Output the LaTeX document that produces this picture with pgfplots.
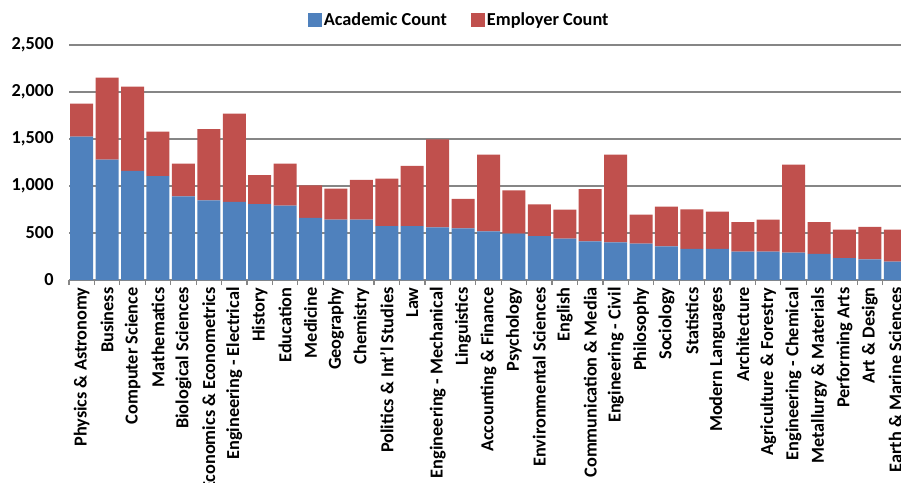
\documentclass[border=0pt]{standalone}
\usepackage{fontspec}
\setmainfont{Carlito}
\usepackage{pgfplots}
\pgfplotsset{compat=1.18}
\definecolor{acad}{HTML}{4F81BD}
\definecolor{empl}{HTML}{C0504D}
\definecolor{gridgray}{HTML}{868686}
\newcommand{\lblfont}{\fontsize{18.3}{22}\selectfont\bfseries}

% academic and employer counts per subject, in chart order
\pgfplotstableread{
x academic employer
0  1525 351
1  1280 872
2  1160 897
3  1106 472
4  890  348
5  848  758
6  830  940
7  808  309
8  791  447
9  660  347
10 642  330
11 642  422
12 574  504
13 574  639
14 560  936
15 550  312
16 518  815
17 493  461
18 468  337
19 440  308
20 411  557
21 401  932
22 387  308
23 358  422
24 330  422
25 330  397
26 301  316
27 301  341
28 291  936
29 277  340
30 234  301
31 220  344
32 195  340
}\subjects

\begin{document}
\begin{tikzpicture}[x=1pt,y=1pt]
\begin{axis}[
    at={(69pt,202pt)}, anchor=south west,
    scale only axis,
    width=839pt, height=235pt,
    ybar stacked,
    bar width=23pt,
    xmin=-0.5, xmax=32.5,
    ymin=0, ymax=2500,
    enlargelimits=false,
    axis lines*=left,
    y axis line style={draw=none},
    x axis line style={gridgray, line width=1.6pt},
    ytick={0,500,...,2500},
    ytick style={draw=none},
    ymajorgrids,
    grid style={gridgray, line width=1.6pt},
    xtick={0,...,32},
    major x tick style={draw=none},
    minor xtick={-0.5,0.5,...,32.5},
    minor x tick style={gridgray, line width=1.2pt},
    minor tick length=5pt,
    tick align=outside,
    xticklabels={Physics \& Astronomy, Business, Computer Science, Mathematics,
        Biological Sciences, Economics \& Econometrics, Engineering - Electrical,
        History, Education, Medicine, Geography, Chemistry,
        Politics \& Int'l Studies, Law, Engineering - Mechanical, Linguistics,
        Accounting \& Finance, Psychology, Environmental Sciences, English,
        Communication \& Media, Engineering - Civil, Philosophy, Sociology,
        Statistics, Modern Languages, Architecture, Agriculture \& Forestry,
        Engineering - Chemical, Metallurgy \& Materials, Performing Arts,
        Art \& Design, Earth \& Marine Sciences},
    xticklabel style={font=\lblfont, inner sep=0pt, yshift=-3pt, rotate=90, anchor=east},
    yticklabel style={font=\lblfont, inner sep=0pt, xshift=-11pt},
    /pgf/number format/assume math mode=true,
    /pgf/number format/1000 sep={,},
    legend columns=2,
    legend style={at={(0.465,1.106)}, anchor=center, draw=none, fill=none,
        font=\lblfont, inner sep=0pt,
        /tikz/every even column/.append style={column sep=22pt}},
    legend image code/.code={\fill[#1] (0pt,-7pt) rectangle (14pt,7pt);},
]
\addplot[fill=acad, draw=none] table[x=x, y=academic] {\subjects};
\addplot[fill=empl, draw=none] table[x=x, y=employer] {\subjects};
\legend{Academic Count, Employer Count}
\end{axis}
\pgfresetboundingbox
\useasboundingbox (0,0) rectangle (901,482);
\end{tikzpicture}
\end{document}
